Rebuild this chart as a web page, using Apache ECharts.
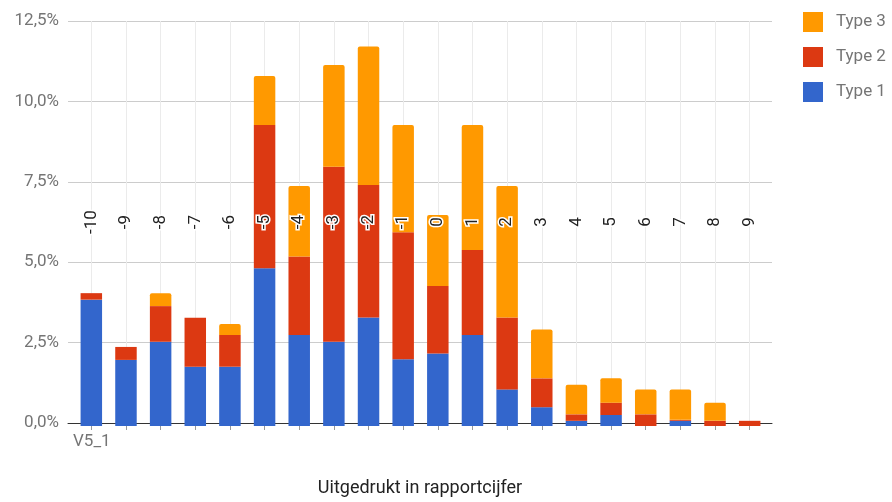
<!DOCTYPE html>
<html>
<head>
<meta charset="utf-8">
<script src="https://cdn.jsdelivr.net/npm/echarts@6/dist/echarts.min.js"></script>
<style>html,body{margin:0;padding:0;background:#fff;}#c{width:892px;height:502px;}</style>
</head>
<body>
<div id="c"></div>
<script>
const categories = ['-10','-9','-8','-7','-6','-5','-4','-3','-2','-1','0','1','2','3','4','5','6','7','8','9'];
const type1 = [3.9, 2.04, 2.6, 1.83, 1.83, 4.87, 2.81, 2.6, 3.35, 2.06, 2.24, 2.81, 1.13, 0.58, 0.16, 0.34, 0, 0.16, 0, 0];
const type2 = [0.2, 0.4, 1.1, 1.51, 0.98, 4.42, 2.42, 5.4, 4.09, 3.92, 2.08, 2.62, 2.22, 0.89, 0.2, 0.38, 0.36, 0.03, 0.16, 0.16];
const type3 = [0, 0, 0.4, 0, 0.34, 1.51, 2.18, 3.14, 4.27, 3.31, 2.19, 3.86, 4.06, 1.51, 0.91, 0.75, 0.77, 0.94, 0.56, 0];
const seriesNames = ['Type 1', 'Type 2', 'Type 3'];
const colors = ['#3366cc', '#dc3912', '#ff9900'];
const yTicks = { min: 0, max: 12.5, interval: 2.5 };
const groupLabel = 'V5_1';
const axisTitle = 'Uitgedrukt in rapportcijfer';

const FONT = 'Roboto';
const chart = echarts.init(document.getElementById('c'), null, { renderer: 'canvas' });
const values = [type1, type2, type3];
const option = {
  animation: false,
  textStyle: { fontFamily: FONT },
  grid: [
    { left: 68, right: 120, top: 21, bottom: 76 },
    { left: 74, right: 125, top: 21, bottom: 76 }
  ],
  legend: {
    data: ['Type 3', 'Type 2', 'Type 1'],
    orient: 'vertical',
    left: 798,
    top: 7,
    itemWidth: 20,
    itemHeight: 20,
    itemGap: 15,
    icon: 'rect',
    textStyle: { fontSize: 17, color: '#757575', fontFamily: FONT, padding: [0, 0, 0, 8] }
  },
  xAxis: [
    {
      gridIndex: 0, type: 'value', min: 0, max: 1,
      axisLine: { show: true, onZero: false, lineStyle: { color: '#333', width: 1 } },
      axisTick: { show: false }, axisLabel: { show: false }, splitLine: { show: false },
      name: axisTitle, nameLocation: 'middle', nameGap: 56,
      nameTextStyle: { fontSize: 18, color: '#222', fontFamily: FONT }
    },
    {
      gridIndex: 1, type: 'category', data: categories,
      axisLine: { show: false },
      axisTick: { show: true, alignWithLabel: true, length: 4, lineStyle: { color: '#999' } },
      axisLabel: { show: false },
      splitLine: { show: true, alignWithLabel: true, lineStyle: { color: '#ebebeb', width: 1 } }
    },
    {
      gridIndex: 1, type: 'category', data: categories,
      offset: -201,
      z: 10,
      axisLine: { show: false }, axisTick: { show: false }, splitLine: { show: false },
      axisLabel: {
        interval: 0, rotate: -90, margin: 0, align: 'center', verticalAlign: 'middle',
        fontSize: 17, color: '#222', fontFamily: FONT,
        textBorderColor: '#fff', textBorderWidth: 3
      }
    }
  ],
  yAxis: [
    {
      gridIndex: 0, type: 'value', min: yTicks.min, max: yTicks.max, interval: yTicks.interval,
      axisLine: { show: false }, axisTick: { show: false },
      axisLabel: {
        margin: 9, fontSize: 17, color: '#757575', fontFamily: FONT,
        formatter: v => v.toFixed(1).replace('.', ',') + '%'
      },
      splitLine: { lineStyle: { color: '#cccccc', width: 1 } }
    },
    {
      gridIndex: 1, type: 'value', min: yTicks.min, max: yTicks.max, interval: yTicks.interval,
      show: false, splitLine: { show: false }
    }
  ],
  graphic: [
    {
      type: 'text', left: 73, top: 433,
      style: { text: groupLabel, font: '17px ' + FONT, fill: '#757575' }
    }
  ],
  series: seriesNames.map((name, i) => ({
    name: name,
    type: 'bar',
    stack: 'total',
    xAxisIndex: 1,
    yAxisIndex: 1,
    barWidth: '62%',
    data: values[i],
    itemStyle: { color: colors[i], borderRadius: i === 2 ? [2, 2, 0, 0] : 0 }
  }))
};
chart.setOption(option);
</script>
</body>
</html>
